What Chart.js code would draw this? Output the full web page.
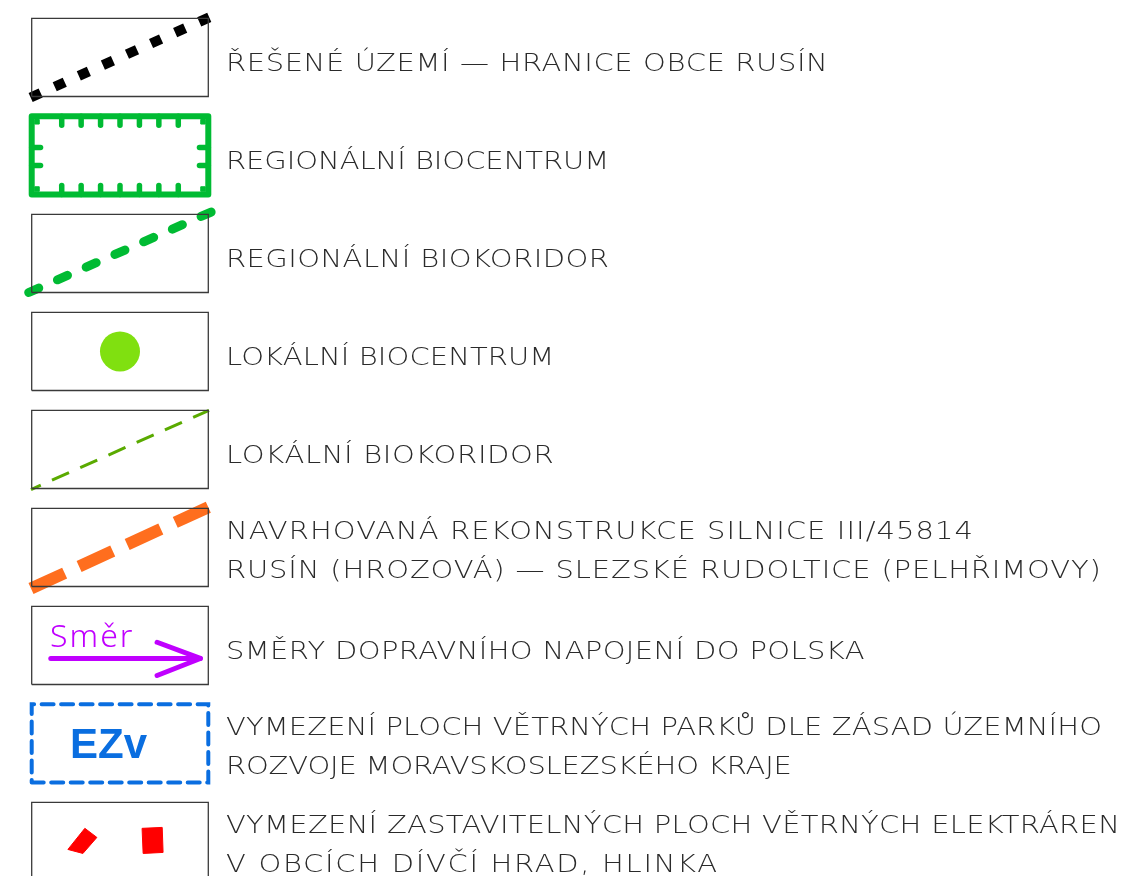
<!DOCTYPE html>
<html>
<head>
<meta charset="utf-8">
<script src="https://cdn.jsdelivr.net/npm/chart.js@4.4.1/dist/chart.umd.min.js"></script>
<style>
  html, body { margin: 0; padding: 0; background: #fff; }
  #wrap { width: 1124px; height: 876px; }
</style>
</head>
<body>
<div id="wrap"><canvas id="legendChart" width="1124" height="876"></canvas></div>
<script>
// legend rows, top to bottom
const rowLabels = [
  ["ŘEŠENÉ ÚZEMÍ — HRANICE OBCE RUSÍN"],
  ["REGIONÁLNÍ BIOCENTRUM"],
  ["REGIONÁLNÍ BIOKORIDOR"],
  ["LOKÁLNÍ BIOCENTRUM"],
  ["LOKÁLNÍ BIOKORIDOR"],
  ["NAVRHOVANÁ REKONSTRUKCE SILNICE III/45814", "RUSÍN (HROZOVÁ) — SLEZSKÉ RUDOLTICE (PELHŘIMOVY)"],
  ["SMĚRY DOPRAVNÍHO NAPOJENÍ DO POLSKA"],
  ["VYMEZENÍ PLOCH VĚTRNÝCH PARKŮ DLE ZÁSAD ÚZEMNÍHO", "ROZVOJE MORAVSKOSLEZSKÉHO KRAJE"],
  ["VYMEZENÍ ZASTAVITELNÝCH PLOCH VĚTRNÝCH ELEKTRÁREN", "V OBCÍCH DÍVČÍ HRAD, HLINKA"]
];
const rowSymbols = ["boundary", "rbc", "rbk", "lbc", "lbk", "road", "arrow", "ezv", "vte"];
const symbolText = ["", "", "", "", "", "", "Směr", "EZv", ""];

// symbol shapes in box units: sx 0..1 left->right, sy 0..1 bottom->top
const diagBoundary = [[-0.006, -0.013], [1.006, 1.013]];
const diagRbk = [[-0.017, 0.0], [1.017, 1.03]];
const diagLbk = [[-0.004, -0.013], [1.004, 1.0]];
const diagRoad = [[-0.004, -0.026], [1.0, 1.013]];
const rbcTicksX = [0.17, 0.28, 0.39, 0.5, 0.61, 0.72, 0.83];
const rbcTicksY = [0.37, 0.6];
const lbcCenter = [0.5, 0.5];
const arrowShaft = [[0.108, 0.333], [0.955, 0.333]];
const arrowHead = [[0.71, 0.54], [0.955, 0.333], [0.71, 0.115]];
const vtePoly1 = [[0.205, 0.397], [0.301, 0.667], [0.369, 0.551], [0.29, 0.346], [0.205, 0.397]];
const vtePoly2 = [[0.625, 0.667], [0.739, 0.679], [0.744, 0.359], [0.631, 0.346], [0.625, 0.667]];

const HALF = 0.399; // half box height in row units
function pt(row, s) {
  return { x: s[0], y: row + HALF - s[1] * 2 * HALF };
}
function seg(row, pts, style) {
  return Object.assign({
    type: 'line',
    data: pts.map(p => pt(row, p)),
    showLine: true,
    pointRadius: 0,
    fill: false,
    tension: 0,
    borderColor: '#3a3a3a',
    borderWidth: 1.3
  }, style);
}
const boxPts = [[0, 0], [1, 0], [1, 1], [0, 1], [0, 0]];

const datasets = [];
rowSymbols.forEach(function(sym, row) {
  if (sym === 'rbc') {
    const g = '#00bb33';
    const tick = { borderColor: g, borderWidth: 5.5, borderCapStyle: 'round' };
    datasets.push(seg(row, boxPts, { borderColor: g, borderWidth: 6, borderJoinStyle: 'round' }));
    const tx = 0.05, ty = 0.115;
    rbcTicksX.forEach(function(x) {
      datasets.push(seg(row, [[x, 1], [x, 1 - ty]], tick));
      datasets.push(seg(row, [[x, 0], [x, ty]], tick));
    });
    rbcTicksY.forEach(function(y) {
      datasets.push(seg(row, [[0, y], [tx, y]], tick));
      datasets.push(seg(row, [[1, y], [1 - tx, y]], tick));
    });
    datasets.push({
      type: 'scatter',
      data: [[0.03, 0.93], [0.97, 0.93], [0.03, 0.07], [0.97, 0.07]].map(p => pt(row, p)),
      pointStyle: 'rect', pointRadius: 3.2, backgroundColor: g, borderColor: g, borderWidth: 1
    });
  } else if (sym === 'ezv') {
    datasets.push(seg(row, boxPts, { borderColor: '#0a6ee0', borderWidth: 4, borderDash: [12, 7.5], borderCapStyle: 'round' }));
  } else {
    datasets.push(seg(row, boxPts, {}));
  }

  if (sym === 'boundary') {
    datasets.push(seg(row, diagBoundary, { borderColor: '#000', borderWidth: 10, borderDash: [11, 15.4] }));
  } else if (sym === 'rbk') {
    datasets.push(seg(row, diagRbk, { borderColor: '#00bb33', borderWidth: 9, borderDash: [11, 20.4], borderCapStyle: 'round' }));
  } else if (sym === 'lbc') {
    datasets.push({
      type: 'scatter', data: [pt(row, lbcCenter)],
      pointRadius: 20, backgroundColor: '#80e010', borderColor: '#80e010', borderWidth: 0
    });
  } else if (sym === 'lbk') {
    datasets.push(seg(row, diagLbk, { borderColor: '#5aaa00', borderWidth: 3, borderDash: [18.6, 12.3], borderDashOffset: 7.9 }));
  } else if (sym === 'road') {
    datasets.push(seg(row, diagRoad, { borderColor: '#ff6e1e', borderWidth: 12, borderDash: [37, 15.9] }));
  } else if (sym === 'arrow') {
    datasets.push(seg(row, arrowShaft, { borderColor: '#c000ff', borderWidth: 5, borderCapStyle: 'round' }));
    datasets.push(seg(row, arrowHead, { borderColor: '#c000ff', borderWidth: 5, borderCapStyle: 'round', borderJoinStyle: 'round' }));
  } else if (sym === 'vte') {
    datasets.push(seg(row, vtePoly1, { borderColor: '#ff0000', backgroundColor: '#ff0000', borderWidth: 1, fill: 'shape' }));
    datasets.push(seg(row, vtePoly2, { borderColor: '#ff0000', backgroundColor: '#ff0000', borderWidth: 1, fill: 'shape' }));
  }
});

// draws the label text and the words inside symbol boxes
const legendText = {
  id: 'legendText',
  afterDatasetsDraw(chart) {
    const ctx = chart.ctx;
    const xs = chart.scales.x, ys = chart.scales.y;
    const pitch = 18.25, stretch = 1.16;
    ctx.save();
    ctx.fillStyle = '#2a2a2a';
    ctx.textBaseline = 'alphabetic';
    ctx.textAlign = 'left';
    const tx = xs.getPixelForValue(1.1);
    rowLabels.forEach(function(lines, row) {
      const cy = ys.getPixelForValue(row);
      const base = lines.length === 1 ? [cy + 14] : [cy - 8, cy + 31];
      lines.forEach(function(line, k) {
        ctx.save();
        ctx.font = '200 25px "DejaVu Sans"';
        ctx.letterSpacing = '0px';
        const w = ctx.measureText(line).width;
        const n = line.length;
        ctx.letterSpacing = ((pitch / stretch * n - w) / n).toFixed(2) + 'px';
        ctx.translate(tx, base[k]);
        ctx.scale(stretch, 1);
        ctx.fillText(line, 0, 0);
        ctx.restore();
      });
    });
    ctx.letterSpacing = '0px';
    symbolText.forEach(function(t, row) {
      if (!t) return;
      const cy = ys.getPixelForValue(row);
      if (rowSymbols[row] === 'arrow') {
        ctx.fillStyle = '#c000ff';
        ctx.font = '300 32px "Noto Sans"';
        ctx.letterSpacing = '2px';
        ctx.textAlign = 'left';
        ctx.fillText(t, xs.getPixelForValue(0.104), cy + 2);
      } else {
        ctx.fillStyle = '#0a6ee0';
        ctx.font = 'bold 42px "Liberation Sans"';
        ctx.letterSpacing = '0px';
        ctx.textAlign = 'center';
        ctx.fillText(t, xs.getPixelForValue(0.435), cy + 15);
      }
    });
    ctx.restore();
  }
};

new Chart(document.getElementById('legendChart'), {
  type: 'scatter',
  data: { datasets: datasets },
  options: {
    responsive: false,
    animation: false,
    events: [],
    layout: { padding: 0, autoPadding: false },
    plugins: { legend: { display: false }, tooltip: { enabled: false } },
    scales: {
      x: { type: 'linear', display: false, min: -0.1795, max: 6.1852 },
      y: { type: 'linear', display: false, reverse: true, min: -0.5857, max: 8.3531 }
    }
  },
  plugins: [legendText]
});
</script>
</body>
</html>
